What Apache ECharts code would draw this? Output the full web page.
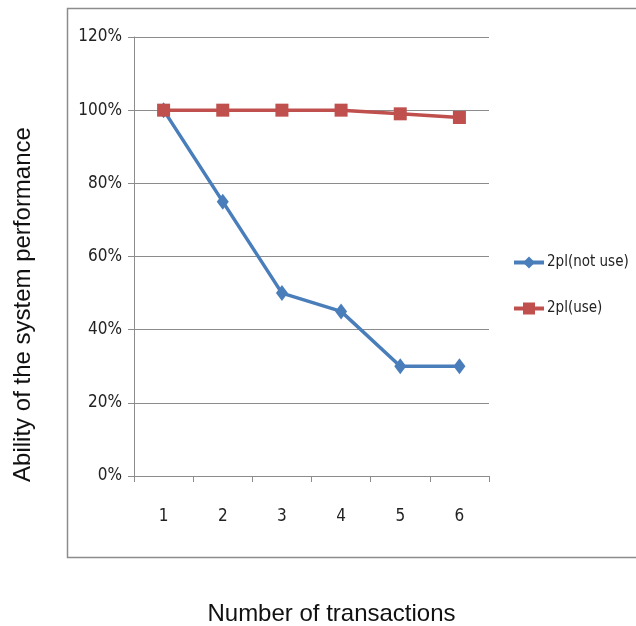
<!DOCTYPE html>
<html>
<head>
<meta charset="utf-8">
<script src="https://cdn.jsdelivr.net/npm/echarts@6/dist/echarts.min.js"></script>
<style>
  html, body { margin: 0; padding: 0; background: #fff; }
  #chart { width: 636px; height: 626px; }
</style>
</head>
<body>
<div id="chart"></div>
<script>
// Number of concurrent transactions on the x axis
const categories = ['1', '2', '3', '4', '5', '6'];
// Relative system performance (%)
const notUseValues = [100, 75, 50, 45, 30, 30];
const useValues = [100, 100, 100, 100, 99, 98];
const seriesNames = ['2pl(not use)', '2pl(use)'];
const yTicks = [0, 20, 40, 60, 80, 100, 120];

const tickFont = '"DejaVu Sans Condensed", "Liberation Sans Narrow", Roboto, sans-serif';
const titleFont = '"Liberation Sans", Arial, sans-serif';
const chart = echarts.init(document.getElementById('chart'), null, { renderer: 'canvas' });

chart.setOption({
  backgroundColor: '#ffffff',
  animation: false,
  graphic: [
    {
      type: 'rect',
      shape: { x: 67.5, y: 8.5, width: 620, height: 549 },
      style: { fill: 'none', stroke: '#8c8c8c', lineWidth: 1.5 },
      silent: true,
      z: -1
    }
  ],
  grid: { left: 134, top: 37, width: 355, height: 439, containLabel: false, outerBoundsMode: 'none' },
  legend: {
    orient: 'vertical',
    left: 507,
    top: 250,
    itemGap: 31,
    itemWidth: 30,
    itemHeight: 15,
    lineStyle: { width: 4 },
    textStyle: { fontFamily: tickFont, fontSize: 15, color: '#222', padding: [0, 0, 0, -2] },
    data: seriesNames
  },
  xAxis: {
    type: 'category',
    data: categories,
    boundaryGap: true,
    name: 'Number of transactions',
    nameLocation: 'middle',
    nameGap: 126,
    nameTextStyle: { fontFamily: titleFont, fontSize: 24, color: '#111', padding: [0, 0, 0, 40] },
    axisLine: { show: true, lineStyle: { color: '#8c8c8c', width: 1 } },
    axisTick: { show: true, alignWithLabel: false, length: 6, lineStyle: { color: '#8c8c8c' } },
    axisLabel: { fontFamily: tickFont, fontSize: 17, color: '#222', margin: 32 },
    splitLine: { show: false }
  },
  yAxis: {
    type: 'value',
    min: 0,
    max: 120,
    interval: 20,
    name: 'Ability of the system performance',
    nameLocation: 'middle',
    nameGap: 99,
    nameRotate: 90,
    nameTextStyle: { fontFamily: titleFont, fontSize: 24, color: '#111', padding: [0, 96, 0, 0] },
    axisLine: { show: true, lineStyle: { color: '#8c8c8c', width: 1 } },
    axisTick: { show: true, length: 6, lineStyle: { color: '#8c8c8c' } },
    axisLabel: {
      fontFamily: tickFont, fontSize: 17, color: '#222', margin: 12,
      formatter: v => (yTicks.includes(v) ? v + '%' : '')
    },
    splitLine: { show: true, lineStyle: { color: '#8c8c8c', width: 1 } }
  },
  series: [
    {
      name: seriesNames[0],
      type: 'line',
      data: notUseValues,
      symbol: 'diamond',
      symbolSize: [12, 16],
      lineStyle: { color: '#4a7ebb', width: 3.5 },
      itemStyle: { color: '#4a7ebb' },
      z: 2
    },
    {
      name: seriesNames[1],
      type: 'line',
      data: useValues,
      symbol: 'rect',
      symbolSize: 13,
      lineStyle: { color: '#c0504d', width: 3.5 },
      itemStyle: { color: '#c0504d' },
      z: 3
    }
  ]
});
</script>
</body>
</html>
